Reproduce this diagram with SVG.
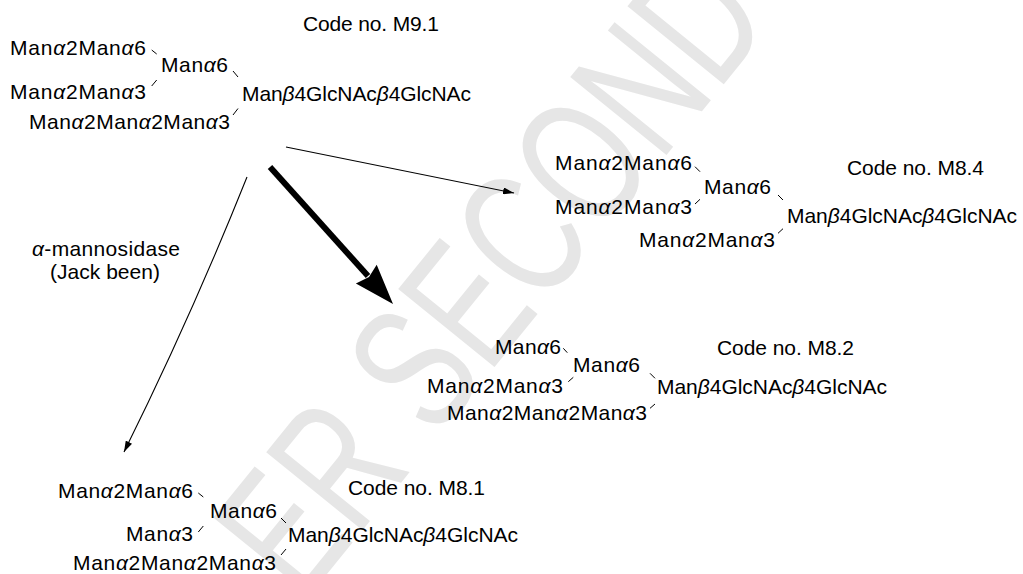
<svg xmlns="http://www.w3.org/2000/svg" width="1023" height="574" viewBox="0 0 1023 574">
<style>
text{font-family:"Liberation Sans",Arial,Helvetica,sans-serif;font-size:21px;fill:#000}
.g{font-style:italic}
.tk{stroke:#000;stroke-width:1;fill:none}
.wm{font-family:"Liberation Sans",Arial,sans-serif;font-size:180px;fill:#e6e6e6}
.ln{stroke:#000;stroke-width:1.1;fill:none}
</style>
<defs>
<marker id="ah" markerUnits="userSpaceOnUse" markerWidth="11" markerHeight="7" refX="11" refY="3.5" orient="auto">
<path d="M0,0 L11,3.5 L0,7 z" fill="#000"/>
</marker>
</defs>
<rect width="1023" height="574" fill="#fff"/>
<text class="wm" x="0" y="0" transform="translate(303 603.6) rotate(-51) scale(0.7 1)">ER SECOND</text>

<g id="m9-1">
<text x="303" y="31" textLength="136">Code no. M9.1</text>
<text x="10" y="55" textLength="136">Man<tspan class="g">α</tspan>2Man<tspan class="g">α</tspan>6</text>
<text x="161" y="72" textLength="67">Man<tspan class="g">α</tspan>6</text>
<text x="10" y="99" textLength="136">Man<tspan class="g">α</tspan>2Man<tspan class="g">α</tspan>3</text>
<text x="242" y="101" textLength="229">Man<tspan class="g">β</tspan>4GlcNAc<tspan class="g">β</tspan>4GlcNAc</text>
<text x="29" y="129" textLength="201">Man<tspan class="g">α</tspan>2Man<tspan class="g">α</tspan>2Man<tspan class="g">α</tspan>3</text>
<path class="tk" d="M151.7,50 L156.7,54 M233,71 L238,77 M151.7,86 L156.7,80 M233,115 L238,108.5"/>
</g>

<g id="m8-4">
<text x="847" y="175" textLength="137">Code no. M8.4</text>
<text x="555" y="170" textLength="137">Man<tspan class="g">α</tspan>2Man<tspan class="g">α</tspan>6</text>
<text x="704" y="194" textLength="67">Man<tspan class="g">α</tspan>6</text>
<text x="555" y="213.5" textLength="137">Man<tspan class="g">α</tspan>2Man<tspan class="g">α</tspan>3</text>
<text x="787" y="223" textLength="230">Man<tspan class="g">β</tspan>4GlcNAc<tspan class="g">β</tspan>4GlcNAc</text>
<text x="639" y="247" textLength="136">Man<tspan class="g">α</tspan>2Man<tspan class="g">α</tspan>3</text>
<path class="tk" d="M695,166.7 L700,171.7 M778,195 L783,200 M695,204 L700,199.3 M778,233.3 L783,228.7"/>
</g>

<g id="m8-2">
<text x="717" y="355" textLength="137">Code no. M8.2</text>
<text x="495" y="353.5" textLength="66">Man<tspan class="g">α</tspan>6</text>
<text x="573" y="372" textLength="67">Man<tspan class="g">α</tspan>6</text>
<text x="427" y="393" textLength="136">Man<tspan class="g">α</tspan>2Man<tspan class="g">α</tspan>3</text>
<text x="657" y="393.5" textLength="230">Man<tspan class="g">β</tspan>4GlcNAc<tspan class="g">β</tspan>4GlcNAc</text>
<text x="447" y="420" textLength="200">Man<tspan class="g">α</tspan>2Man<tspan class="g">α</tspan>2Man<tspan class="g">α</tspan>3</text>
<path class="tk" d="M563.3,348.3 L567.3,352.7 M650,373.3 L655,378.3 M568.3,381.7 L573.3,377.3 M650,408.3 L655,404"/>
</g>

<g id="m8-1">
<text x="348" y="495" textLength="137">Code no. M8.1</text>
<text x="58" y="498" textLength="135">Man<tspan class="g">α</tspan>2Man<tspan class="g">α</tspan>6</text>
<text x="210" y="518" textLength="67">Man<tspan class="g">α</tspan>6</text>
<text x="126" y="541" textLength="67">Man<tspan class="g">α</tspan>3</text>
<text x="288" y="542" textLength="230">Man<tspan class="g">β</tspan>4GlcNAc<tspan class="g">β</tspan>4GlcNAc</text>
<text x="73" y="570" textLength="203">Man<tspan class="g">α</tspan>2Man<tspan class="g">α</tspan>2Man<tspan class="g">α</tspan>3</text>
<path class="tk" d="M198.3,493 L203.3,497 M281,518 L286,523 M198.3,532 L203.3,526 M281,555 L286,549"/>
</g>

<g id="enzyme-label">
<text x="32" y="256" textLength="148"><tspan class="g">α</tspan>-mannosidase</text>
<text x="50" y="279" textLength="110">(Jack been)</text>
</g>

<g id="connectors">
<path class="ln" d="M286,147 L514,193" marker-end="url(#ah)"/>
<path class="ln" d="M247,177 Q191,317 124,452" marker-end="url(#ah)"/>
<path d="M270,167 L368,276" stroke="#000" stroke-width="6" fill="none"/>
<polygon points="393,304 355.9,283.6 369,277 376.7,264.8" fill="#000"/>
</g>
</svg>
